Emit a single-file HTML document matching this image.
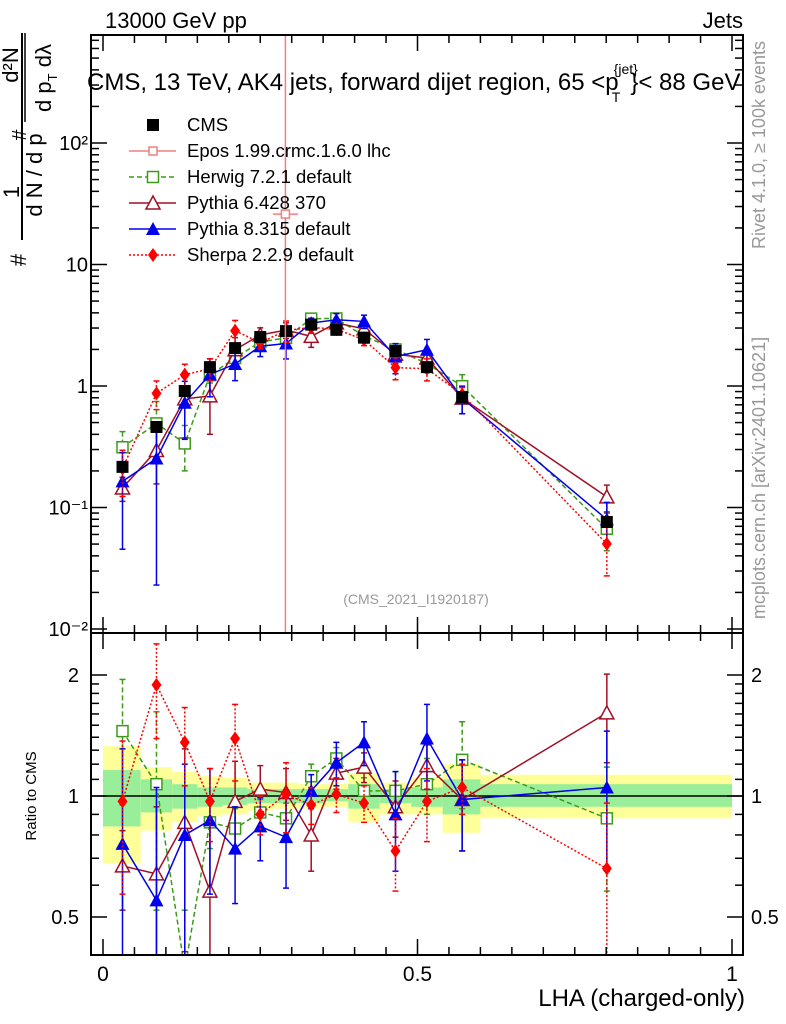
<!DOCTYPE html>
<html><head><meta charset="utf-8"><style>
html,body{margin:0;padding:0;background:#fff;overflow:hidden;width:786px;height:1024px;}
svg{display:block;font-family:"Liberation Sans",sans-serif;}
</style></head><body>
<svg id="chart" width="786" height="1024" viewBox="0 0 786 1024" xmlns="http://www.w3.org/2000/svg">
<defs>
<clipPath id="mainClip"><rect x="91" y="35" width="652" height="598"/></clipPath>
<clipPath id="ratioClip"><rect x="91" y="633" width="652" height="322"/></clipPath>
</defs>
<g id="bands" clip-path="url(#ratioClip)"></g>
<g id="mainMarks" clip-path="url(#mainClip)"></g>
<g id="ratioMarks" clip-path="url(#ratioClip)"></g>
<g id="axes"></g>
<text x="105" y="28" font-size="22">13000 GeV pp</text>
<text x="743" y="28" font-size="22" text-anchor="end">Jets</text>
<text x="87" y="90" font-size="24">CMS, 13 TeV, AK4 jets, forward dijet region, 65 &lt;p<tspan font-size="14" dy="-16" dx="-5">{jet}</tspan><tspan font-size="14" dx="-26" dy="28">T</tspan><tspan dy="-12" dx="10">}&lt; 88 GeV</tspan></text>
<text x="416" y="604" font-size="14" fill="#999" text-anchor="middle">(CMS_2021_I1920187)</text>
<text transform="translate(765,145) rotate(-90)" font-size="18" fill="#999" text-anchor="middle">Rivet 4.1.0, ≥ 100k events</text>
<text transform="translate(765,478) rotate(-90)" font-size="18" fill="#999" text-anchor="middle">mcplots.cern.ch [arXiv:2401.10621]</text>
<g font-size="22">
<line x1="22" y1="33" x2="22" y2="240" stroke="#000" stroke-width="2"/>
<text transform="translate(19,192) rotate(-90)" text-anchor="middle">1</text>
<text transform="translate(26,260) rotate(-90)" text-anchor="middle">#</text>
<text transform="translate(42,175) rotate(-90)" text-anchor="middle">d N / d p</text>
<text transform="translate(26,135) rotate(-90)" text-anchor="middle" font-size="20">#</text>
<text transform="translate(18,65) rotate(-90)" text-anchor="middle">d²N</text>
<line x1="25" y1="33" x2="25" y2="122" stroke="#000" stroke-width="1.5"/>
<text transform="translate(51,78) rotate(-90)" text-anchor="middle">d p<tspan font-size="13" dy="6">T</tspan><tspan dy="-6">  dλ</tspan></text>
</g>
<text transform="translate(36,796) rotate(-90)" font-size="15" text-anchor="middle">Ratio to CMS</text>
<text x="745" y="1006" font-size="24" text-anchor="end">LHA (charged-only)</text>
<g id="legend"></g>
</svg>
<script>
const lha = [0.031,0.085,0.130,0.170,0.210,0.250,0.291,0.331,0.371,0.415,0.465,0.515,0.571,0.801];
const binEdges = [0,0.06,0.11,0.15,0.19,0.23,0.27,0.31,0.35,0.39,0.44,0.49,0.54,0.60,1.0];
const cmsValues = [0.216,0.46,0.91,1.43,2.05,2.53,2.83,3.2,2.9,2.5,1.94,1.43,0.81,0.076];
const herwigRatio = [1.45,1.07,0.37,0.86,0.83,0.91,0.88,1.12,1.24,1.03,1.03,1.07,1.23,0.88];
const herwigErr = [0.5,0.55,0.15,0.12,0.1,0.07,0.08,0.08,0.08,0.08,0.12,0.17,0.3,0.3];
const pythia6Ratio = [0.67,0.64,0.86,0.58,0.97,1.04,1.02,0.80,1.14,1.18,0.94,1.19,0.98,1.61];
const pythia6Err = [0.15,0.3,0.45,0.3,0.25,0.15,0.15,0.15,0.1,0.1,0.15,0.15,0.25,0.4];
const pythia8Ratio = [0.76,0.55,0.80,0.87,0.74,0.84,0.79,1.03,1.21,1.36,0.90,1.39,0.98,1.05];
const pythia8Err = [0.55,0.5,0.4,0.3,0.2,0.15,0.2,0.1,0.15,0.17,0.25,0.3,0.25,0.4];
const sherpaRatio = [0.97,1.89,1.36,0.97,1.39,0.90,1.01,0.95,1.01,0.96,0.73,0.97,1.05,0.66];
const sherpaErr = [0.4,0.5,0.3,0.2,0.3,0.1,0.2,0.1,0.1,0.1,0.15,0.2,0.15,0.3];
const yellowHi = [1.33,1.18,1.15,1.12,1.11,1.08,1.08,1.07,1.07,1.14,1.08,1.11,1.20,1.13];
const yellowLo = [0.68,0.82,0.86,0.89,0.90,0.92,0.93,0.93,0.94,0.86,0.90,0.90,0.81,0.88];
const greenHi = [1.16,1.10,1.07,1.05,1.05,1.04,1.04,1.04,1.04,1.07,1.04,1.05,1.10,1.07];
const greenLo = [0.84,0.91,0.93,0.94,0.95,0.96,0.96,0.96,0.97,0.93,0.96,0.94,0.90,0.94];
const eposX = [0.29];
const eposValue = [26];
const eposXErr = [0.02];
const mainTickLabels = ["10⁻²","10⁻¹","1","10","10²"];
const ratioTickValues = [0.5,1,2];
const xTickLabels = ["0","0.5","1"];

const NS="http://www.w3.org/2000/svg";
const L=91,R=743,T=35,MB=633,RB=955;
const xs=v=>103+629*v;
const ym=v=>386-121.5*Math.log10(v);
const yr=v=>796-121*Math.log2(v);
function mk(tag,attrs,parent){const e=document.createElementNS(NS,tag);for(const k in attrs)e.setAttribute(k,attrs[k]);parent.appendChild(e);return e;}
const bands=document.getElementById('bands'),mainG=document.getElementById('mainMarks'),ratioG=document.getElementById('ratioMarks'),axes=document.getElementById('axes'),legend=document.getElementById('legend');

for(let i=0;i<lha.length;i++){
  const x0=xs(binEdges[i]),x1=xs(binEdges[i+1]);
  let r=mk('rect',{x:x0,y:yr(yellowHi[i]),width:x1-x0,height:yr(yellowLo[i])-yr(yellowHi[i]),fill:'#ffff99'},bands);
  
  
  r=mk('rect',{x:x0,y:yr(greenHi[i]),width:x1-x0,height:yr(greenLo[i])-yr(greenHi[i]),fill:'#99ee99'},bands);
  
  
}
let ref=mk('line',{x1:L,x2:R,y1:yr(1),y2:yr(1),stroke:'#000','stroke-width':1.5},ratioG);



function marker(g,type,x,y,color){
  let e;
  if(type==='sq') e=mk('rect',{x:x-6,y:y-6,width:12,height:12,fill:'#000'},g);
  else if(type==='osq') e=mk('rect',{x:x-5.5,y:y-5.5,width:11,height:11,fill:'#fff',stroke:color,'stroke-width':1.5},g);
  else if(type==='otri') e=mk('polygon',{points:`${x},${y-7} ${x-7},${y+6} ${x+7},${y+6}`,fill:'#fff',stroke:color,'stroke-width':1.5},g);
  else if(type==='tri') e=mk('polygon',{points:`${x},${y-7} ${x-7},${y+6} ${x+7},${y+6}`,fill:color},g);
  else if(type==='dia') e=mk('polygon',{points:`${x},${y-7} ${x-5},${y} ${x},${y+7} ${x+5},${y}`,fill:color},g);
  else if(type==='cross') e=mk('rect',{x:x-4,y:y-4,width:8,height:8,fill:'#fff',stroke:color,'stroke-width':1.5},g);
  
  
  return e;
}
const series=[
 {name:'herwig',ratio:herwigRatio,err:herwigErr,color:'#3d9a1a',dash:'5,3',m:'osq'},
 {name:'pythia6',ratio:pythia6Ratio,err:pythia6Err,color:'#a01025',dash:'',m:'otri'},
 {name:'pythia8',ratio:pythia8Ratio,err:pythia8Err,color:'#0000ee',dash:'',m:'tri'},
 {name:'sherpa',ratio:sherpaRatio,err:sherpaErr,color:'#ff0000',dash:'2,2',m:'dia'}
];
series.forEach(s=>{
  [[mainG,(i,r)=>ym(cmsValues[i]*r)],[ratioG,(i,r)=>yr(r)]].forEach(([g,yf])=>{
    const pts=lha.map((v,i)=>`${xs(v)},${yf(i,s.ratio[i])}`).join(' ');
    const pl=mk('polyline',{points:pts,fill:'none',stroke:s.color,'stroke-width':1.5,'stroke-dasharray':s.dash},g);
    
    
    lha.forEach((v,i)=>{
      const x=xs(v),hi=yf(i,s.ratio[i]+s.err[i]),lo=yf(i,Math.max(0.01,s.ratio[i]-s.err[i]));
      const eb=mk('line',{x1:x,x2:x,y1:hi,y2:lo,stroke:s.color,'stroke-width':1.5,'stroke-dasharray':s.dash},g);
      
      
      mk('line',{x1:x-3,x2:x+3,y1:hi,y2:hi,stroke:s.color,'stroke-width':1.5},g);
      mk('line',{x1:x-3,x2:x+3,y1:lo,y2:lo,stroke:s.color,'stroke-width':1.5},g);
      marker(g,s.m,x,yf(i,s.ratio[i]),s.color);
    });
  });
});
lha.forEach((v,i)=>{const m=marker(mainG,'sq',xs(v),ym(cmsValues[i]));});
eposX.forEach((v,i)=>{
  const x=xs(v),y=ym(eposValue[i]);
  let e=mk('line',{x1:x,x2:x,y1:T,y2:MB,stroke:'#f08080','stroke-width':1.5},mainG);
  
  
  mk('line',{x1:xs(v-eposXErr[i]),x2:xs(v+eposXErr[i]),y1:y,y2:y,stroke:'#f08080','stroke-width':1.5},mainG);
  marker(mainG,'cross',x,y,'#f08080');
});

function frame(y0,y1,name){const f=mk('rect',{x:L,y:y0,width:R-L,height:y1-y0,fill:'none',stroke:'#000','stroke-width':2},axes);}
frame(T,MB,'main-frame');frame(MB,RB,'ratio-frame');
function tl(x1,y1,x2,y2){mk('line',{x1,y1,x2,y2,stroke:'#000','stroke-width':1.5},axes);}
for(let d=-2;d<=2;d++){
  const y=ym(Math.pow(10,d));
  tl(L,y,L+16,y);tl(R,y,R-16,y);
  const t=mk('text',{x:L-3,y:y+7,'font-size':20,'text-anchor':'end'},axes);
  t.textContent=mainTickLabels[d+2];
  
  
  for(let k=2;k<=9;k++){const yy=ym(k*Math.pow(10,d));if(yy>T)tl(L,yy,L+8,yy),tl(R,yy,R-8,yy);}
}
ratioTickValues.forEach(v=>{
  const y=yr(v);tl(L,y,L+16,y);tl(R,y,R-16,y);
  [[L-12,'end'],[R+8,'start']].forEach(([x,a])=>{
    const t=mk('text',{x:x,y:y+7,'font-size':20,'text-anchor':a},axes);
    t.textContent=String(v);
    
    
  });
});
[0.6,0.7,0.8,0.9,1.1,1.2,1.3,1.4,1.5,1.6,1.7,1.8,1.9].forEach(v=>{const y=yr(v);tl(L,y,L+8,y);tl(R,y,R-8,y);});
for(let k=0;k<=20;k++){
  const v=k*0.05,x=xs(v),len=(k%10===0)?16:8;
  tl(x,RB,x,RB-len);tl(x,MB,x,MB-len);tl(x,MB,x,MB+len);tl(x,T,x,T+len);
}
xTickLabels.forEach((s,i)=>{const t=mk('text',{x:xs(i*0.5),y:981,'font-size':21,'text-anchor':'middle'},axes);t.textContent=s;});

const legNames=['CMS','Epos 1.99.crmc.1.6.0 lhc','Herwig 7.2.1 default','Pythia 6.428 370','Pythia 8.315 default','Sherpa 2.2.9 default'];
const legStyle=[['sq','#000',''],['cross','#f08080',''],['osq','#3d9a1a','5,3'],['otri','#a01025',''],['tri','#0000ee',''],['dia','#ff0000','2,2']];
legNames.forEach((n,i)=>{
  const y=125+26*i;
  if(i>0){const ln=mk('line',{x1:129,x2:176,y1:y,y2:y,stroke:legStyle[i][1],'stroke-width':1.5,'stroke-dasharray':legStyle[i][2]},legend);}
  marker(legend,legStyle[i][0],153,y,legStyle[i][1]);
  const t=mk('text',{x:187,y:y+6,'font-size':18.5},legend);
  t.textContent=n;
  
  
});
</script>
</body></html>
